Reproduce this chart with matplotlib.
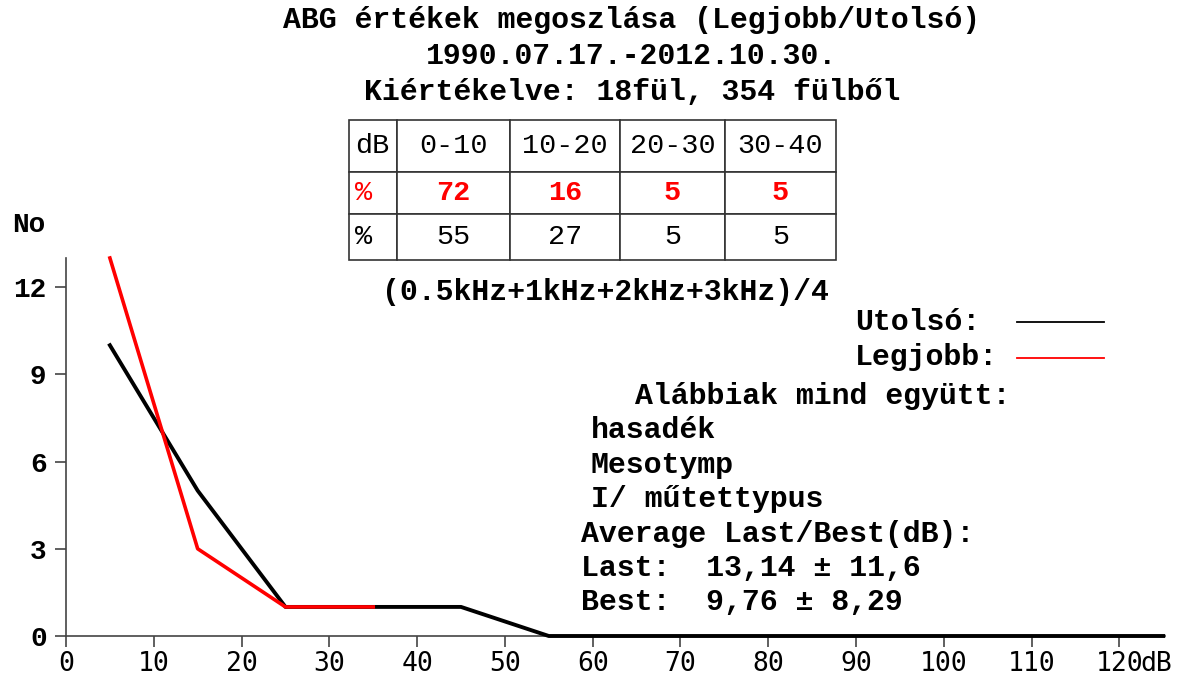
import numpy as np
import matplotlib.pyplot as plt

# data
x_last = [5, 15, 25, 35, 45, 55, 65, 75, 85, 95, 105, 115, 125]
y_last = [10, 5, 1, 1, 1, 0, 0, 0, 0, 0, 0, 0, 0]
x_best = [5, 15, 25, 35]
y_best = [13, 3, 1, 1]

table_cols = ['dB', '0-10', '10-20', '20-30', '30-40']
best_pct = ['72', '16', '5', '5']
last_pct = ['55', '27', '5', '5']

x_ticks = [0, 10, 20, 30, 40, 50, 60, 70, 80, 90, 100, 110, 120]
x_labels = ['0', '10', '20', '30', '40', '50', '60', '70', '80', '90', '100', '110', '120']
y_ticks = [0, 3, 6, 9, 12]

plt.rcParams['font.family'] = ['Liberation Mono', 'DejaVu Sans Mono']
plt.rcParams['font.weight'] = 'bold'

W, H = 1180, 684
FS = 21.5
fig = plt.figure(figsize=(11.8, 6.84), dpi=100)


def fx(px):
    return px / W


def fy(py):
    return 1 - py / H


ax = fig.add_axes([fx(66), fy(636), fx(1165) - fx(66), fy(258) - fy(636)])
ax.plot(x_last, y_last, color='black', lw=2.8, clip_on=False, zorder=3)
ax.plot(x_best, y_best, color='red', lw=2.6, clip_on=False, zorder=4)
ax.set_xlim(0, 125.2)
ax.set_ylim(0, 13)
ax.set_xticks(x_ticks)
ax.set_xticklabels(x_labels, fontsize=19, fontweight='normal', family='DejaVu Sans Mono')
ax.set_yticks(y_ticks)
ax.set_yticklabels([str(v) for v in y_ticks], fontsize=20)
for s in ['top', 'right']:
    ax.spines[s].set_visible(False)
for s in ['left', 'bottom']:
    ax.spines[s].set_color('#444444')
    ax.spines[s].set_linewidth(1.2)
ax.tick_params(length=8, width=1.2, color='#444444')
ax.tick_params(axis='x', pad=3)
ax.tick_params(axis='y', pad=6)
# unit after the last tick label
ax.annotate('dB', xy=(120, 0), xycoords=('data', 'axes fraction'),
            xytext=(15, -11), textcoords='offset points', ha='left', va='top',
            fontsize=19, fontweight='normal', family='DejaVu Sans Mono')

fig.text(fx(12), fy(225), 'No', fontsize=20, va='center', ha='left')

# titles
title_lines = ['ABG értékek megoszlása (Legjobb/Utolsó)',
               '1990.07.17.-2012.10.30.',
               'Kiértékelve: 18fül, 354 fülből']
for ypx, t in zip([20, 56, 92], title_lines):
    fig.text(fx(632), fy(ypx), t, fontsize=FS, ha='center', va='center')

# table
tab_ax = fig.add_axes([fx(349), fy(260), fx(836) - fx(349), fy(120) - fy(260)])
tab_ax.axis('off')
col_px = [48, 113, 110, 105, 111]
col_w = [c / sum(col_px) for c in col_px]
cells = [table_cols, ['%'] + best_pct, ['%'] + last_pct]
tbl = tab_ax.table(cellText=cells, colWidths=col_w, bbox=[0, 0, 1, 1], cellLoc='center')
tbl.auto_set_font_size(False)
row_h = [52 / 140, 42 / 140, 46 / 140]
for (r, c), cell in tbl.get_celld().items():
    cell.set_height(row_h[r])
    cell.set_linewidth(1.2)
    cell.set_edgecolor('#333333')
    txt = cell.get_text()
    txt.set_fontsize(FS - 1)
    txt.set_fontweight('normal')
    if r == 1:
        txt.set_color('red')
        if c > 0:
            txt.set_fontweight('bold')
    if c == 0:
        txt.set_ha('left')
        cell.PAD = 0.12

fig.text(fx(605), fy(292), '(0.5kHz+1kHz+2kHz+3kHz)/4', fontsize=FS, ha='center', va='center')

# legend
fig.text(fx(855), fy(322), 'Utolsó:', fontsize=FS, ha='left', va='center')
fig.text(fx(855), fy(357), 'Legjobb:', fontsize=FS, ha='left', va='center')
fig.add_artist(plt.Line2D([fx(1017), fx(1104)], [fy(322), fy(322)], color='black', lw=1.3))
fig.add_artist(plt.Line2D([fx(1017), fx(1104)], [fy(358), fy(358)], color='red', lw=1.3))

notes = [(635, 396, 'Alábbiak mind együtt:'),
         (591, 430, 'hasadék'),
         (591, 465, 'Mesotymp'),
         (591, 499, 'I/ műtettypus'),
         (581, 534, 'Average Last/Best(dB):'),
         (581, 568, 'Last:  13,14 ± 11,6'),
         (581, 602, 'Best:  9,76 ± 8,29')]
for xp, yp, t in notes:
    fig.text(fx(xp), fy(yp), t, fontsize=FS, ha='left', va='center')

fig.savefig('out.png', dpi=100)
